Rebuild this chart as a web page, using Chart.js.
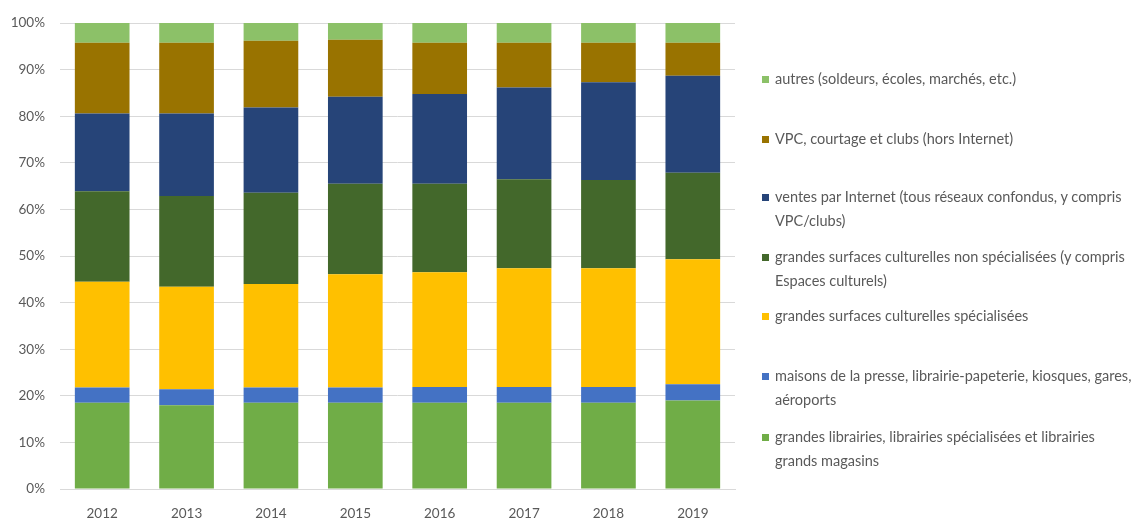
<!DOCTYPE html>
<html><head><meta charset="utf-8">
<script src="https://cdn.jsdelivr.net/npm/chart.js@4/dist/chart.umd.min.js"></script>
<style>
html,body{margin:0;padding:0;background:#fff;}
#wrap{position:relative;width:1134px;height:520px;}
#legend{position:absolute;left:0;top:0;width:1134px;height:520px;pointer-events:none;font-family:Lato,"Open Sans",sans-serif;font-size:14.5px;color:#595959;}
.li{position:absolute;left:762px;}
.sw{position:absolute;left:0;top:5px;width:7px;height:7px;}
.tx{position:absolute;left:13px;top:0;line-height:24px;white-space:nowrap;margin-top:-4px;}
</style></head>
<body><div id="wrap"><canvas id="c" width="1134" height="520"></canvas><div id="legend"></div></div>
<script>
const years = ["2012","2013","2014","2015","2016","2017","2018","2019"];
const seriesNames = [
  "grandes librairies, librairies spécialisées et librairies\ngrands magasins",
  "maisons de la presse, librairie-papeterie, kiosques, gares,\naéroports",
  "grandes surfaces culturelles spécialisées",
  "grandes surfaces culturelles non spécialisées (y compris\nEspaces culturels)",
  "ventes par Internet (tous réseaux confondus, y compris\nVPC/clubs)",
  "VPC, courtage et clubs (hors Internet)",
  "autres (soldeurs, écoles, marchés, etc.)"
];
const librairies = [18.5, 18.0, 18.5, 18.5, 18.5, 18.5, 18.5, 19.0];
const maisonsPresse = [3.3, 3.4, 3.3, 3.3, 3.4, 3.4, 3.4, 3.5];
const gscSpecialisees = [22.7, 22.0, 22.2, 24.3, 24.6, 25.5, 25.5, 26.8];
const gscNonSpecialisees = [19.4, 19.5, 19.6, 19.4, 19.0, 19.1, 18.9, 18.6];
const ventesInternet = [16.7, 17.7, 18.3, 18.7, 19.3, 19.7, 21.0, 20.8];
const vpcClubs = [15.2, 15.2, 14.3, 12.2, 11.0, 9.6, 8.5, 7.1];
const autres = [4.2, 4.2, 3.8, 3.6, 4.2, 4.2, 4.2, 4.2];
const yTicks = [0,10,20,30,40,50,60,70,80,90,100];
const colors = ["#70AD47","#4472C4","#FFC000","#43682B","#264478","#997300","#8CC168"];
const values = [librairies, maisonsPresse, gscSpecialisees, gscNonSpecialisees, ventesInternet, vpcClubs, autres];

const datasets = values.map((v,i)=>({label:seriesNames[i], data:v, backgroundColor:colors[i], borderWidth:0,
  categoryPercentage:0.8, barPercentage:0.81}));

new Chart(document.getElementById('c'), {
  type:'bar',
  data:{labels:years, datasets},
  options:{
    responsive:false, animation:false,
    layout:{padding:{left:0,right:399,top:23,bottom:0}},
    plugins:{legend:{display:false}, tooltip:{enabled:false}},
    scales:{
      x:{stacked:true, grid:{display:false}, border:{color:'#D9D9D9'},
         ticks:{color:'#595959', font:{family:'Lato,"Open Sans",sans-serif', size:13.5}, padding:9},
         afterFit:s=>{s.height=31;}},
      y:{stacked:true, min:0, max:100,
         afterBuildTicks:s=>{s.ticks=yTicks.map(v=>({value:v}));},
         grid:{color:'#D9D9D9', drawTicks:false}, border:{display:false},
         ticks:{color:'#595959', font:{family:'Lato,"Open Sans",sans-serif', size:13.5}, padding:15, callback:v=>v+'%'},
         afterFit:s=>{s.width=60;}}
    }
  }
});

// HTML legend (top-to-bottom reverse of stacking order)
const legendTops = [438, 377, 317, 258, 198, 140, 80];
const lg = document.getElementById('legend');
values.forEach((v,i)=>{
  const d = document.createElement('div'); d.className='li'; d.style.top=(legendTops[i]-9)+'px';
  const sw = document.createElement('div'); sw.className='sw'; sw.style.background=colors[i];
  const tx = document.createElement('div'); tx.className='tx';
  tx.innerHTML = seriesNames[i].split('\n').join('<br>');
  d.appendChild(sw); d.appendChild(tx); lg.appendChild(d);
});
</script></body></html>
